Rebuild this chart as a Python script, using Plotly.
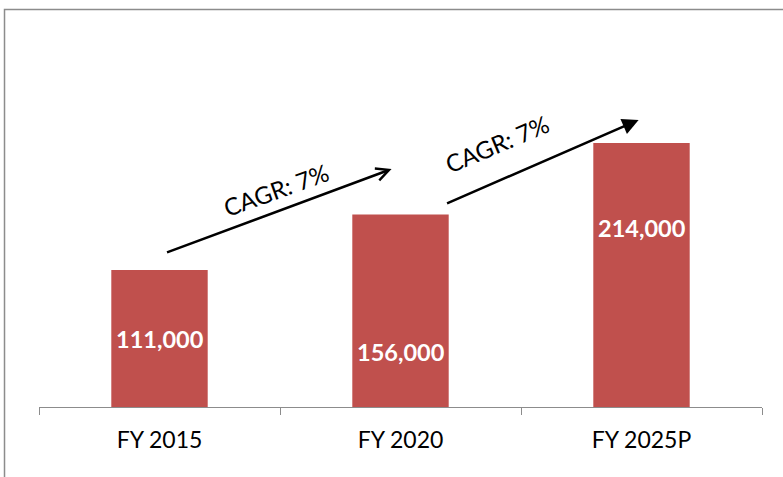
import plotly.graph_objects as go

categories = ["FY 2015", "FY 2020", "FY 2025P"]
values = [111000, 156000, 214000]
value_labels = ["111,000", "156,000", "214,000"]
cagr_labels = ["CAGR: 7%", "CAGR: 7%"]

BAR_COLOR = "#C0504D"
FONT = "Lato"

fig = go.Figure()
fig.add_trace(go.Bar(
    x=categories, y=values, width=0.4,
    marker=dict(color=BAR_COLOR, line=dict(width=0)),
    hoverinfo="skip",
))

# value labels (placed like in the original, not centred)
label_pos = [55100, 44560, 145040]
for i, (t, yp) in enumerate(zip(value_labels, label_pos)):
    fig.add_annotation(x=i, y=yp, xref="x", yref="y", text=f"<b>{t}</b>",
                       showarrow=False, font=dict(family=FONT, size=23.5, color="white"))

# CAGR arrows
fig.add_annotation(x=0.963, y=192840, ax=0.025, ay=124780, xref="x", yref="y",
                   axref="x", ayref="y", text="", showarrow=True,
                   arrowhead=5, arrowsize=1.0, arrowwidth=2.5, arrowcolor="black")
fig.add_annotation(x=1.988, y=232540, ax=1.187, ay=164480, xref="x", yref="y",
                   axref="x", ayref="y", text="", showarrow=True,
                   arrowhead=2, arrowsize=1.3, arrowwidth=2.5, arrowcolor="black")

fig.add_annotation(x=0.485, y=176630, xref="x", yref="y", text=cagr_labels[0],
                   showarrow=False, textangle=-20,
                   font=dict(family=FONT, size=24, color="black"))
fig.add_annotation(x=1.402, y=213900, xref="x", yref="y", text=cagr_labels[1],
                   showarrow=False, textangle=-23,
                   font=dict(family=FONT, size=24, color="black"))

# outer frame
fig.add_shape(type="rect", xref="paper", yref="paper",
              x0=-0.0477, x1=1.2, y0=-0.4, y1=1.027,
              line=dict(color="#8C8C8C", width=1.5), layer="below")

fig.update_layout(
    width=783, height=477,
    margin=dict(l=39, r=21, t=20, b=70),
    paper_bgcolor="white", plot_bgcolor="white",
    showlegend=False, bargap=0.6,
    font=dict(family=FONT, color="black"),
    xaxis=dict(
        type="category", range=[-0.5, 2.5], showline=True, linecolor="#8C8C8C",
        linewidth=1.2, ticks="outside", tickson="boundaries", ticklen=7,
        tickcolor="#8C8C8C", tickwidth=1.2, showgrid=False, zeroline=False,
        ticklabelstandoff=12,
        tickfont=dict(family=FONT, size=23, color="black"),
    ),
    yaxis=dict(range=[0, 313600], visible=False, showgrid=False, zeroline=False),
)

fig.write_html("out.html", config={"displayModeBar": False},
               post_script="document.body.style.margin='0';document.body.style.overflow='hidden';")
